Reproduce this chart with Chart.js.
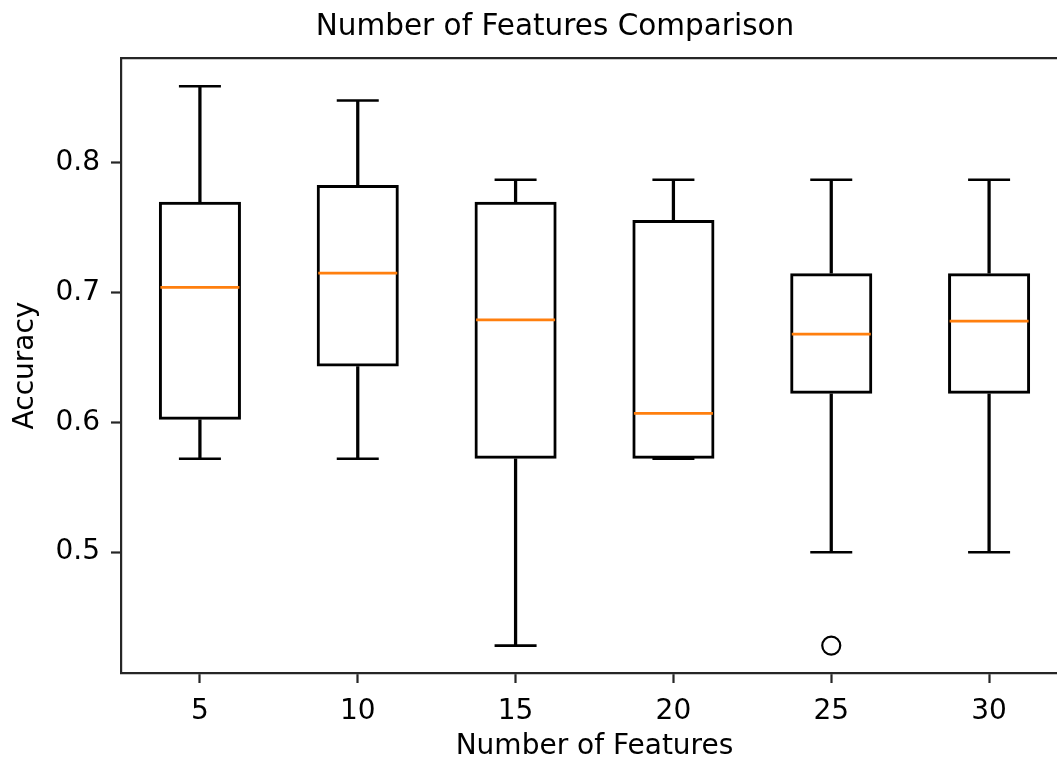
<!DOCTYPE html>
<html>
<head>
<meta charset="utf-8">
<title>Number of Features Comparison</title>
<script src="https://cdn.jsdelivr.net/npm/chart.js@4/dist/chart.umd.min.js"></script>
<style>
  html, body { margin: 0; padding: 0; background: #fff; overflow: hidden; }
  canvas { display: block; }
</style>
</head>
<body>
<canvas id="boxChart" width="1110" height="765"></canvas>
<script>
// Box plot values (accuracy per number of features)
const categories = ['5', '10', '15', '20', '25', '30'];
const whiskerLow = [0.572, 0.572, 0.428, 0.572, 0.500, 0.500];
const quartile1 = [0.602, 0.643, 0.572, 0.572, 0.622, 0.622];
const medians = [0.704, 0.715, 0.679, 0.607, 0.668, 0.678];
const quartile3 = [0.770, 0.783, 0.770, 0.756, 0.715, 0.715];
const whiskerHigh = [0.859, 0.848, 0.787, 0.787, 0.787, 0.787];
const outliers = [null, null, null, null, 0.428, null];
const yTicks = [0.5, 0.6, 0.7, 0.8];

const FONT = 'DejaVu Sans';
const ink = '#000';
const spine = '#262626';
const LW = 2.6;

function pairs(a, b) {
  return a.map((v, i) => [v, b[i]]);
}

// Boxes, whiskers, caps, medians and fliers as separate datasets
const datasets = [
  {
    type: 'bar',
    data: pairs(quartile1, quartile3),
    backgroundColor: 'rgba(0,0,0,0)',
    borderColor: ink,
    borderWidth: 3,
    borderSkipped: false,
    barPercentage: 0.52,
    categoryPercentage: 1,
    grouped: false,
    order: 3
  },
  {
    type: 'bar',
    data: pairs(whiskerLow, quartile1),
    backgroundColor: ink,
    borderWidth: 0,
    barThickness: LW,
    grouped: false,
    order: 4
  },
  {
    type: 'bar',
    data: pairs(quartile3, whiskerHigh),
    backgroundColor: ink,
    borderWidth: 0,
    barThickness: LW,
    grouped: false,
    order: 4
  },
  {
    type: 'line',
    data: whiskerLow,
    showLine: false,
    pointStyle: 'line',
    pointRadius: 21,
    pointBorderColor: ink,
    pointBorderWidth: LW,
    order: 2
  },
  {
    type: 'line',
    data: whiskerHigh,
    showLine: false,
    pointStyle: 'line',
    pointRadius: 21,
    pointBorderColor: ink,
    pointBorderWidth: LW,
    order: 2
  },
  {
    type: 'line',
    data: medians,
    showLine: false,
    pointStyle: 'line',
    pointRadius: 39.5,
    pointBorderColor: '#ff7f0e',
    pointBorderWidth: 2.8,
    order: 1
  },
  {
    type: 'line',
    data: outliers,
    showLine: false,
    pointStyle: 'circle',
    pointRadius: 9,
    pointBackgroundColor: 'rgba(0,0,0,0)',
    pointBorderColor: ink,
    pointBorderWidth: 2.2,
    order: 1
  }
];

new Chart(document.getElementById('boxChart'), {
  type: 'bar',
  data: { labels: categories, datasets: datasets },
  options: {
    responsive: false,
    animation: false,
    events: [],
    layout: { autoPadding: false, padding: 0 },
    plugins: {
      legend: { display: false },
      tooltip: { enabled: false },
      title: {
        display: true,
        text: 'Number of Features Comparison',
        color: ink,
        font: { family: FONT, size: 29.5, weight: 'normal', lineHeight: 1.2 },
        padding: { top: 10, bottom: 12.6 }
      }
    },
    scales: {
      x: {
        type: 'category',
        position: 'bottom',
        offset: true,
        grid: {
          display: true,
          offset: false,
          drawOnChartArea: false,
          drawTicks: true,
          tickLength: 10,
          tickWidth: 2.2,
          tickColor: spine
        },
        border: { display: true, color: spine, width: 2.2 },
        ticks: {
          color: ink,
          padding: 12,
          maxRotation: 0,
          font: { family: FONT, size: 28 }
        },
        title: {
          display: true,
          text: 'Number of Features',
          color: ink,
          font: { family: FONT, size: 28, lineHeight: 1.2 },
          padding: { top: 0, bottom: 1 }
        },
        afterFit: (s) => { s.height = 92; }
      },
      xTop: {
        type: 'category',
        position: 'top',
        offset: true,
        grid: { display: false },
        ticks: { display: false },
        border: { display: true, color: spine, width: 2.2 },
        afterFit: (s) => { s.height = 0; }
      },
      y: {
        type: 'linear',
        min: 0.4069,
        max: 0.8808,
        grid: {
          display: true,
          drawOnChartArea: false,
          drawTicks: true,
          tickLength: 10,
          tickWidth: 2.2,
          tickColor: spine
        },
        border: { display: true, color: spine, width: 2.2 },
        afterBuildTicks: (s) => { s.ticks = yTicks.map(v => ({ value: v })); },
        ticks: {
          color: ink,
          padding: 11,
          font: { family: FONT, size: 28 },
          callback: (v) => v.toFixed(1)
        },
        title: {
          display: true,
          text: 'Accuracy',
          color: ink,
          font: { family: FONT, size: 28, lineHeight: 1.2 },
          padding: { top: 9, bottom: 0 }
        },
        afterFit: (s) => { s.width = 121; }
      },
      // right spine sits just past the window edge, as in the cropped figure
      yRight: {
        type: 'linear',
        position: 'right',
        min: 0.4069,
        max: 0.8808,
        grid: { display: false },
        ticks: { display: false },
        border: { display: true, color: spine, width: 2.2 },
        afterFit: (s) => { s.width = 42; }
      }
    }
  }
});
</script>
</body>
</html>
